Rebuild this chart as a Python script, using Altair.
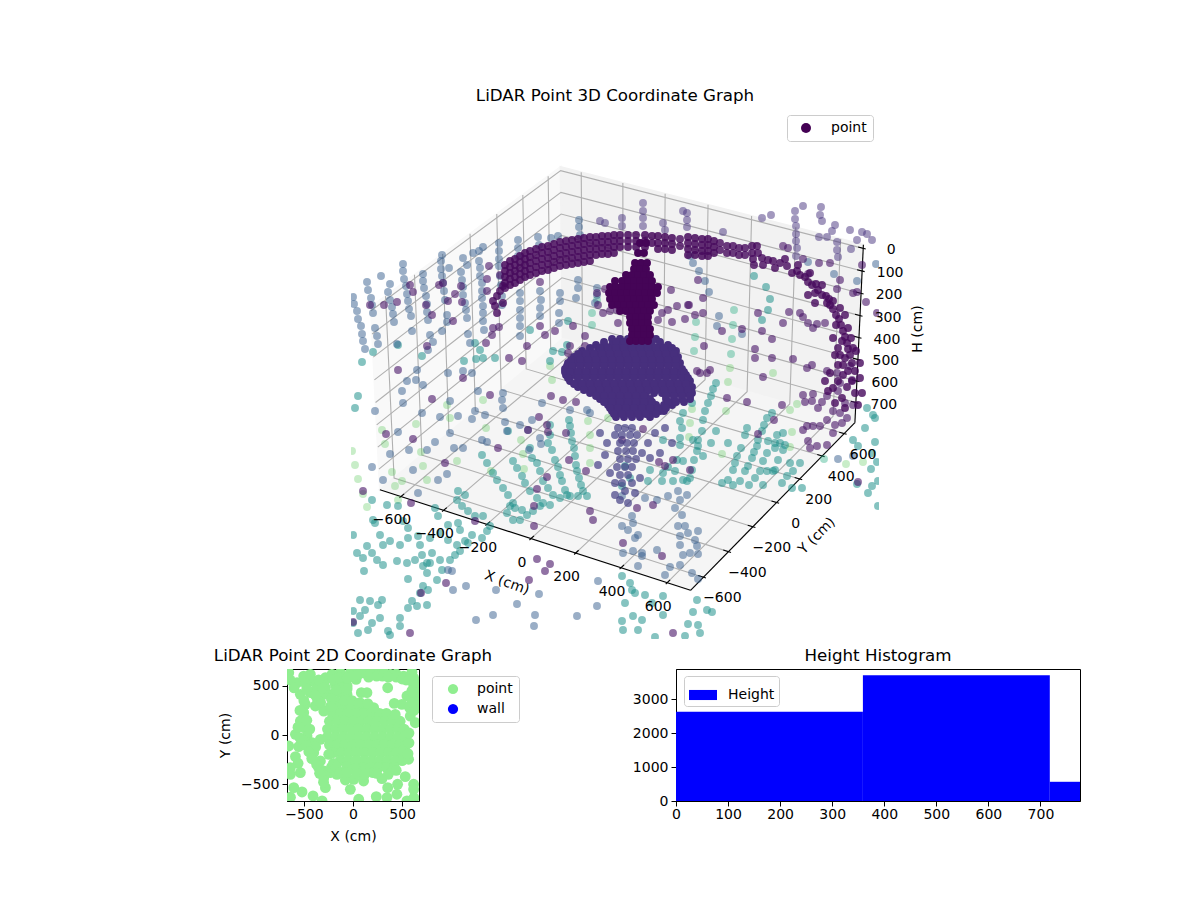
import altair as alt
import pandas as pd

FONT = "DejaVu Sans"

# tick labels of the 3d box
x_ticks = [-600, -400, -200, 0, 200, 400, 600]
y_ticks = [-600, -400, -200, 0, 200, 400, 600]
h_ticks = [0, 100, 200, 300, 400, 500, 600, 700]

# points of the 3d graph: (across, down)
lime_pts = [(382,427),(385,441),(416,421),(421,449),(447,402),(450,415),(486,425),(483,397),(552,377),(550,363),
    (521,437),(523,451),(524,466),(491,468),(457,458),(423,463),(427,477),(402,478),(392,469),(395,483),
    (352,448),(358,476),(355,462),(363,491),(367,504),(398,497),(588,418),(590,432),(590,445),(590,460),
    (608,415),(730,365),(728,379),(773,370),(797,401),(790,407),(792,429),(790,444),(722,451),(726,408),
    (692,406),(690,420),(689,434),(863,459),(846,461)]
mint_pts = [(734,307),(696,319),(733,322),(695,334),(732,336),(694,348),(731,351),(592,310),(592,322),(597,297),(824,456)]
teal_pts = [(569,417),(570,423),(571,430),(572,438),(574,445),(575,453),(576,462),(577,468),(579,475),(581,482),
    (583,488),(587,493),(550,432),(548,440),(552,447),(555,457),(558,464),(560,472),(562,478),(565,487),
    (570,493),(578,493),(550,422),(530,445),(532,455),(537,460),(540,468),(543,478),(548,485),(553,492),
    (560,495),(567,492),(508,428),(513,458),(517,465),(522,473),(525,480),(530,488),(537,495),(543,500),
    (550,502),(482,452),(487,460),(493,470),(497,477),(503,485),(508,492),(513,500),(522,507),(510,503),
    (515,505),(507,510),(513,517),(520,517),(527,512),(533,508),(540,503),(458,488),(465,492),(457,497),
    (462,503),(468,508),(475,513),(483,513),(490,523),(487,528),(482,535),(435,505),(438,513),(448,522),
    (458,520),(460,527),(472,532),(468,540),(465,538),(457,542),(448,537),(440,530),(430,535),(418,533),
    (420,542),(408,535),(408,525),(403,518),(380,532),(383,542),(390,538),(400,542),(372,497),(387,502),
    (398,503),(373,517),(375,520),(353,532),(372,550),(363,555),(357,550),(367,543),(377,557),(383,562),
    (397,558),(407,560),(422,552),(432,550),(427,560),(415,557),(423,563),(430,560),(440,557),(450,557),
    (455,552),(460,548),(364,568),(408,576),(427,570),(442,567),(437,577),(423,583),(428,587),(420,590),
    (412,598),(408,605),(417,603),(427,602),(382,597),(370,598),(378,602),(360,597),(353,608),(365,607),
    (360,613),(353,620),(380,615),(372,620),(368,627),(358,630),(388,628),(400,615),(400,623),(390,632),
    (358,393),(355,405),(398,342),(373,349),(362,359),
    (716,380),(713,386),(711,393),(708,400),(705,408),(703,417),(702,428),(698,437),(698,443),(697,448),
    (694,457),(692,467),(690,475),(683,477),(687,478),(680,442),(682,425),(680,435),(677,457),(675,468),
    (673,478),(662,478),(663,470),(668,464),(680,418),(683,410),(747,425),(745,432),(741,445),(737,453),
    (735,460),(733,467),(728,477),(722,480),(733,482),(757,443),(754,449),(752,455),(748,463),(745,468),
    (740,478),(749,482),(772,410),(767,415),(764,422),(762,428),(758,437),(768,438),(767,450),(763,458),
    (760,468),(755,475),(767,468),(773,468),(763,482),(777,432),(775,440),(775,445),(783,430),(780,440),
    (785,442),(783,447),(778,457),(775,467),(790,460),(800,460),(793,468),(787,473),(782,480),(792,485),
    (802,485),(716,428),(711,440),(728,440),(703,453),(693,437),(683,458),(625,463),(630,475),(650,467),
    (648,478),(622,483),(663,437),(692,400),(697,597),(693,609),(707,607),(712,609),(663,593),(652,600),
    (633,613),(642,617),(638,627),(625,600),(632,587),(635,590),(645,592),(630,580),(622,573),(663,612),
    (688,621),(698,622),(700,630),(685,633),(655,634),(622,618),(623,627),(865,425),(875,415),(867,405),
    (873,412),(853,437),(875,439),(858,443),(872,450),(877,459),(871,466),(878,478),(857,481),(872,483),
    (868,490),(878,503),(530,327),(568,318),(567,342),(562,349),(475,340),(480,347),(483,355),(553,348),
    (550,358),(422,353),(464,358),(476,356),(495,355),(754,273),(766,284),(770,296),(768,307),(762,317)]
steel_pts = [(353,294),(354,301),(357,308),(358,316),(361,323),(362,331),(363,338),(365,346),(367,279),(368,287),
    (371,295),(372,302),(373,310),(375,325),(377,333),(378,341),(381,273),(390,281),(388,289),(390,297),
    (392,304),(393,311),(394,319),(397,341),(403,261),(403,268),(404,276),(406,283),(407,291),(408,298),
    (409,306),(411,313),(412,328),(423,271),(423,278),(424,285),(426,293),(427,301),(427,309),(428,317),
    (430,332),(433,339),(428,347),(442,252),(441,258),(441,266),(442,273),(443,280),(444,288),(445,297),
    (447,312),(447,319),(442,328),(463,255),(467,262),(461,269),(462,277),(463,284),(463,292),(465,300),
    (466,307),(467,315),(468,331),(470,340),(449,265),(473,250),(479,248),(483,244),(479,258),(480,265),
    (480,273),(482,280),(482,288),(482,295),(483,303),(483,310),(483,318),(484,327),(499,240),(499,248),
    (499,256),(499,263),(500,273),(501,282),(502,293),(502,302),(518,237),(518,245),(518,253),(520,290),
    (520,298),(520,307),(520,315),(520,323),(520,333),(538,234),(539,242),(540,288),(541,297),(540,305),
    (540,313),(551,235),(558,233),(560,290),(560,298),(559,310),(559,320),(579,217),(579,224),(580,232),
    (578,277),(578,285),(576,295),(597,285),(597,292),(595,300),(690,253),(693,260),(699,268),(705,278),
    (709,289),(719,313),(717,323),(742,331),(808,259),(834,271),(857,278),(876,261),
    (390,451),(409,447),(427,447),(435,439),(454,445),(463,445),(482,437),(487,439),(507,428),(528,427),
    (540,435),(541,441),(529,447),(413,467),(447,471),(438,477),(383,477),(372,464),(418,490),(472,416),
    (458,413),(440,414),(450,430),(398,429),(475,408),(485,412),(505,419),(520,422),(532,417),(542,400),
    (570,407),(587,407),(590,410),(375,408),(403,400),(422,410),(450,398),(478,388),(503,390),(502,397),
    (503,405),(417,367),(448,370),(463,368),(472,370),(407,378),(423,382),(402,388),(416,377),
    (453,587),(466,583),(496,587),(539,591),(517,601),(493,612),(476,617),(535,612),(534,623),(577,613),
    (597,603),(598,578),(448,567),(452,568),(838,456),(853,453),
    (678,488),(687,492),(668,493),(680,497),(675,505),(682,512),(678,523),(685,523),(688,530),(698,528),
    (680,533),(695,537),(697,543),(680,542),(690,550),(698,551),(683,552),(680,562),(670,564),(665,572),
    (692,570),(698,576),(638,532),(635,535),(632,513),(633,520),(622,523),(628,527),(622,493),(645,495),
    (657,497),(633,548),(642,550),(657,547),(638,563),(623,550),(642,553)]
violet_pts = [(643,200),(643,208),(643,215),(643,223),(622,215),(622,223),(683,208),(687,210),(687,217),(687,224),
    (663,220),(665,227),(723,229),(762,215),(771,212),(795,208),(803,203),(795,216),(796,223),(796,231),
    (796,238),(797,245),(796,253),(821,204),(820,212),(822,218),(835,222),(832,228),(850,227),(857,237),
    (862,229),(867,231),(872,237),(819,234),(827,234),(837,239),(837,247),(838,254),(851,246),(600,218),(605,220)]
purple_pts = [(783,243),(788,245),(803,256),(819,260),(830,260),(808,271),(840,277),(862,262),(853,290),(857,289),
    (866,299),(877,310),(837,286),(698,277),(703,295),(671,287),(668,307),(677,303),(662,310),(658,317),
    (672,319),(685,316),(695,312),(703,310),(688,302),(689,302),(758,310),(789,309),(800,310),(803,314),
    (783,320),(808,320),(817,321),(772,336),(762,328),(755,346),(755,355),(772,355),(793,356),(742,326),
    (722,328),(704,343),(813,325),(825,320),
    (398,367),(463,375),(432,396),(490,392),(551,393),(563,397),(576,399),(539,414),(547,422),(548,429),
    (528,427),(566,430),(498,445),(445,460),(586,468),(547,474),(569,457),(537,486),(534,503),(534,523),
    (475,518),(411,500),(363,488),(413,436),(386,431),(590,508),(593,517),(537,556),(550,561),(545,568),
    (529,577),(421,590),(446,580),(353,619),(410,630),(673,630),(858,479),
    (763,374),(747,399),(758,431),(774,417),(782,402),(803,392),(813,391),(818,405),(805,399),(812,398),
    (822,399),(807,365),(812,362),(827,368),(803,427),(807,423),(813,423),(820,423),(827,417),(835,422),
    (842,420),(808,438),(810,445),(817,443),(827,442),(662,553),(637,505),(653,502),(623,540),(690,467),
    (659,459),(665,463),(673,457),(643,426),(622,437),(700,370),(707,370),(710,367),(697,368),(727,395),
    (837,370),(840,380),(850,363),(852,377),(838,388),(827,393),(833,408),(845,400),(853,402),(840,410),
    (847,415),(833,430),
    (489,263),(410,282),(439,282),(443,280),(461,283),(455,291),(462,299),(413,289),(397,299),(384,302),
    (370,302),(426,302),(432,312),(448,298),(453,318),(487,276),(487,288),(500,272),(427,343),(486,340),
    (492,332),(499,324),(493,325),(540,323),(545,332),(555,328),(573,323),(585,333),(595,347),(570,343),
    (568,350),(585,343),(605,343),(527,343),(509,355),(522,358),(597,290),(598,302),(603,310),(610,308),
    (617,307),(605,286),(623,287),(618,320),(540,279)]

# the ring of the ceiling: across -> stacked downs
arc_columns = {
    505: [262,268,274,280], 510: [258,264,270,276,282], 515: [256,262,268,274,280], 520: [253,259,265,271,277],
    525: [250,256,262,268,274], 530: [248,254,260,266,272], 536: [246,252,258,264,270], 542: [244,250,256,262,268],
    548: [243,249,255,261,267], 554: [241,247,253,259,265], 560: [239,245,251,257,263], 566: [238,244,250,256,262],
    572: [237,243,249,255,261], 578: [236,242,248,254,260], 584: [235,241,247,253,259], 590: [234,240,246,252,258],
    596: [234,240,246,252], 602: [233,239,245,251], 608: [233,239,245,251], 614: [232,238,244,250],
    620: [232,238,244], 628: [232,238,244], 636: [232,238,244], 645: [232,238,244], 652: [233,240],
    658: [233,240,246], 665: [234,240,246], 672: [235,241,247], 688: [234,240,246,252], 695: [235,241,247,252],
    702: [236,242,248,253], 708: [236,242,248,253], 714: [238,244,250],
}
arc_pts = [(495,303),(493,298),(497,293),(500,288),(503,283),(505,285),(497,310),(503,300),
    (720,240),(720,247),(727,243),(727,250),(733,243),(733,250),(739,245),(739,252),(745,245),(745,252),(752,243),
    (752,250),(753,256),(754,262),(757,243),(758,250),(762,255),(768,257),(773,258),(780,260),(787,263),(792,270),
    (797,268),(800,272),(805,274),(808,279),(812,282),(816,281),(818,287),(822,292),(826,293),(829,296),(830,302),
    (833,306),(836,312),(839,316),(841,322),(843,328),(845,334),(847,340),(842,338),(848,346),(838,345),(850,352),
    (845,355),(840,352),(853,345),(835,352),(852,360),(843,362),(838,362),(848,368),(855,368),(843,372),(838,378),
    (852,378),(847,384),(855,390),(842,395),
    (827,300),(833,298),(815,290),(840,305),(845,312),(836,322),(851,335),(848,325),(833,335),(856,348),(860,360),
    (830,370),(825,378),(833,385),(860,375),(862,390),(858,402),(845,405),(835,400),(828,388),(680,236),(680,243),
    (763,262),(775,265),(785,256),(798,262),(810,270),(822,282),(808,292),(815,300)]

# the cross above the dome: down -> across
spire_rows = {
    240: [640,646], 250: [638,644], 260: [635,641,647], 266: [634,640,646], 272: [626,632,638,644,650],
    278: [615,622,628,634,640,646,652], 284: [610,616,622,628,634,640,646,652,658],
    290: [609,615,621,627,633,639,645,651,657], 296: [610,616,622,628,634,640,646,652],
    302: [612,618,624,630,636,642,648,654], 308: [620,626,632,638,644,650], 314: [630,636,642,648],
    320: [630,636,642,648], 326: [632,638,644,650], 332: [632,638,644,650], 338: [630,636,642,648],
}
# the dome: down -> across
dome_rows = {
    336: [612,620,628,636,644,652,656], 342: [596,604,612,620,628,636,644,652,660,668],
    348: [582,590,598,606,614,622,630,638,646,654,662,670,676],
    354: [574,582,590,598,606,614,622,630,638,646,654,662,670,678],
    360: [568,576,584,592,600,608,616,624,632,640,648,656,664,672,680],
    366: [565,573,581,589,597,605,613,621,629,637,645,653,661,669,677,682],
    372: [566,574,582,590,598,606,614,622,630,638,646,654,662,670,678,686],
    378: [570,578,586,594,602,610,618,626,634,642,650,658,666,674,682,690],
    384: [578,586,594,602,610,618,626,634,642,650,658,666,674,682,692],
    390: [590,598,606,614,622,630,638,646,654,662,670,678,686,692],
    396: [600,608,616,624,632,640,650,666,674,682,690],
    402: [608,616,624,632,640,648,656,664,672],
    408: [612,620,628,636,644,652,660,664], 414: [616,624,632,640,650],
    339: [604,616,624,632,640,648,660], 345: [590,600,608,616,624,632,640,648,656,664,672],
    351: [578,586,594,602,610,618,626,634,642,650,658,666,674],
    357: [571,580,588,596,604,612,620,628,636,644,652,660,668,676],
    363: [567,572,580,588,596,604,612,620,628,636,644,652,660,668,676],
    369: [565,570,578,586,594,602,610,618,626,634,642,650,658,666,674,684],
    375: [568,578,586,594,602,610,618,626,634,642,650,658,666,674,682,688],
    381: [574,582,590,598,606,614,622,630,638,646,654,662,670,678,686],
    387: [584,592,600,608,616,624,632,640,648,656,664,672,680,688],
    393: [596,604,612,620,628,636,644,666,674,682,690],
    399: [604,612,620,628,636,644,652,668,676,684],
    405: [610,618,626,634,642,650,658,666],
    411: [614,622,630,638,646,656],
}
stem_pts = [(618,425),(625,425),(632,425),(615,432),(622,432),(630,432),(637,432),(620,440),(627,440),(634,440),
    (618,448),(626,448),(633,448),(620,456),(628,456),(636,456),(617,464),(625,464),(632,464),(620,472),
    (628,472),(615,480),(622,480),(632,480),(625,488),(615,492),(635,490),(620,497),(628,500),(640,475),
    (648,440),(655,430),(665,425),(642,450),(650,455),(660,450),(672,440),(600,430),(607,440),(605,452),
    (598,462),(610,470)]

# 2d graph, (X cm, Y cm)
floor_pts = [(-180,300),(-100,300),(-20,300),(60,300),(140,300),(-210,220),(-130,220),(-50,220),(30,220),(110,220),
    (190,220),(270,220),(340,220),(-240,140),(-160,140),(-80,140),(0,140),(80,140),(160,140),(240,140),(320,140),
    (400,140),(480,140),(-260,60),(-180,60),(-100,60),(-20,60),(60,60),(140,60),(220,60),(300,60),(380,60),(460,60),
    (520,60),(-260,-20),(-180,-20),(-100,-20),(-20,-20),(60,-20),(140,-20),(220,-20),(300,-20),(380,-20),(460,-20),
    (520,-20),(-240,-100),(-160,-100),(-80,-100),(0,-100),(80,-100),(160,-100),(240,-100),(320,-100),(400,-100),
    (480,-100),(540,-100),(-200,-180),(-120,-180),(-40,-180),(40,-180),(120,-180),(200,-180),(280,-180),(360,-180),
    (440,-180),(520,-180),(-130,-260),(-50,-260),(30,-260),(110,-260),(190,-260),(270,-260),(350,-260),(430,-260),
    (500,-260),(100,-330),(180,-330),(260,-330),(340,-330),(420,-330),
    (-654,634),(-570,532),(-502,600),(-434,617),(-417,549),(-536,414),(-434,431),(-366,481),(-281,583),(-214,617),
    (-298,532),(-129,634),(-27,634),(108,634),(244,634),(380,617),(515,600),(617,583),(651,498),(-95,532),(-180,515),
    (-214,414),(-129,431),(-61,414),(31,566),(159,590),(85,431),(142,431),(353,481),(549,397),(634,397),(651,278),
    (634,125),(420,322),(498,312),(576,278),(583,193),(430,210),(210,278),(-383,295),(-485,312),(-502,227),(-536,142),
    (-502,75),(-586,7),(-468,-10),(-417,-78),(-332,-44),(-553,-119),(-400,-180),(-332,-264),(-247,-197),(-298,-366),
    (-298,-434),(-281,-536),(-163,-400),(-230,-383),(-298,244),(-298,414),(-654,-112),(-586,-220),(-559,-288),
    (-536,-383),(-637,-332),(-637,-400),(-603,-536),(-519,-580),(-637,-634),(-407,-620),(-315,-671),(-78,-458),
    (7,-451),(108,-468),(-27,-553),(58,-654),(203,-383),(295,-444),(237,-627),(353,-536),(454,-502),(346,-637),
    (447,-603),(532,-424),(617,-502),(617,-553),(549,-671),(566,-247),(515,-146),(620,-640),(600,640),(640,540),
    (-640,560),(-600,480),(-480,520),(-350,560),(-60,500),(20,640),(200,640),(320,630),(440,620),(540,560),
    (-470,150),(-440,60),(-380,-120),(-350,-330),
    (-200,560),(-140,580),(-60,580),(0,600),(60,620),(120,640),(180,620),(240,600),(300,600),(360,590),(440,590),
    (500,570),(570,560),(620,500),(650,430),(600,450),(640,340),(620,250),(600,330),(-120,480),(-170,460),(-60,470),
    (-470,470),(-500,350),(-540,250),(-560,80),(-540,-30),(-500,-60),(-470,-110),(-450,-170),(-420,-240),(-370,-300),
    (-340,-390),(-300,-480),(-220,-330),(-200,-290),(-170,-330),(-130,-380),(-360,350),(-330,330),(-280,480),
    (-380,400),(-310,480),(-170,340),(-90,350),(-10,350),(70,330),(150,320),(-60,-320),(20,-340),(-220,370),
    (-230,290),(-60,-380),(40,-390),(120,-400),(240,-390),(360,-400),(440,-360),(560,-190),(570,-80),(570,20)]

# histogram
hist_start = [0, 359, 718]
hist_end = [359, 718, 776]
hist_count = [2628, 3704, 566]

# 3d box model
BX, BY, BZ = 1.1905, 1.1905, 0.70
XLIM, YLIM, HLIM = 672, 672, 778
SCALE, CX, CY = 2854, 622, 364
U = (0.866, 0.5, 0.0)
V = (-0.25, 0.433, 0.866)
W = (0.433, -0.75, 0.5)


def project(x, y, h):
    rel = ((x + XLIM) / (2 * XLIM) * BX - BX / 2,
           (y + YLIM) / (2 * YLIM) * BY - BY / 2,
           (HLIM - h) / HLIM * BZ - BZ / 2)
    dist = 10 - sum(a * b for a, b in zip(W, rel))
    return (CX + SCALE * sum(a * b for a, b in zip(U, rel)) / dist,
            CY - SCALE * sum(a * b for a, b in zip(V, rel)) / dist)


XP = XLIM + 2 * XLIM / 48
YP = YLIM + 2 * YLIM / 48
HBOT = HLIM + HLIM / 48
HTOP = -HLIM / 48


def path_rows(name, corners):
    rows = []
    for k, c in enumerate(corners):
        u, v = project(*c)
        rows.append({"id": name, "k": k, "u": u, "v": v})
    return rows


def minus(n):
    return str(n).replace("-", "\u2212")


x_scale = alt.Scale(domain=[351, 879])
y_scale = alt.Scale(domain=[636, 108])
X_ENC = alt.X("u:Q", scale=x_scale, axis=None)
Y_ENC = alt.Y("v:Q", scale=y_scale, axis=None)


def pane(name, corners, fill):
    return alt.Chart(pd.DataFrame(path_rows(name, corners))).mark_line(
        fill=fill, stroke=fill, interpolate="linear-closed"
    ).encode(X_ENC, Y_ENC, order="k:Q")


panes = [
    pane("left", [(-XP, -YP, HBOT), (-XP, YP, HBOT), (-XP, YP, HTOP), (-XP, -YP, HTOP)], "#f9f9f9"),
    pane("back", [(-XP, YP, HBOT), (XP, YP, HBOT), (XP, YP, HTOP), (-XP, YP, HTOP)], "#f2f2f2"),
    pane("floor", [(-XP, -YP, HBOT), (XP, -YP, HBOT), (XP, YP, HBOT), (-XP, YP, HBOT)], "#f5f5f5"),
]

grid_rows = []
for t in x_ticks:
    grid_rows += path_rows(f"gx{t}", [(t, -YP, HBOT), (t, YP, HBOT), (t, YP, HTOP)])
for t in y_ticks:
    grid_rows += path_rows(f"gy{t}", [(XP, t, HBOT), (-XP, t, HBOT), (-XP, t, HTOP)])
for t in h_ticks:
    grid_rows += path_rows(f"gh{t}", [(-XP, -YP, t), (-XP, YP, t), (XP, YP, t)])
grid = alt.Chart(pd.DataFrame(grid_rows)).mark_line(color="#b0b0b0", strokeWidth=1.1).encode(
    X_ENC, Y_ENC, detail="id:N", order="k:Q"
)

axis_rows = []
axis_rows += path_rows("ax", [(-XP, -YP, HBOT), (XP, -YP, HBOT)])
axis_rows += path_rows("ay", [(XP, -YP, HBOT), (XP, YP, HBOT)])
axis_rows += path_rows("ah", [(XP, YP, HBOT), (XP, YP, HTOP)])
DX = 2 * XLIM / 12
for t in x_ticks:
    axis_rows += path_rows(f"tx{t}", [(t, -YP - 0.1 * DX, HBOT), (t, -YP + 0.2 * DX, HBOT)])
for t in y_ticks:
    axis_rows += path_rows(f"ty{t}", [(XP + 0.1 * DX, t, HBOT), (XP - 0.2 * DX, t, HBOT)])
for t in h_ticks:
    axis_rows += path_rows(f"th{t}", [(XP + 0.1 * DX, YP, t), (XP - 0.2 * DX, YP, t)])
axis_lines = alt.Chart(pd.DataFrame(axis_rows)).mark_line(color="black", strokeWidth=1.1).encode(
    X_ENC, Y_ENC, detail="id:N", order="k:Q"
)

label_rows = []
for t in x_ticks:
    u, v = project(t, -YP, HBOT)
    label_rows.append({"u": u - 9, "v": v + 24, "label": minus(t)})
for t in y_ticks:
    u, v = project(XP, t, HBOT)
    label_rows.append({"u": u + 19, "v": v + 21, "label": minus(t)})
for t in h_ticks:
    u, v = project(XP, YP, t)
    label_rows.append({"u": u + 28, "v": v + 2, "label": minus(t)})
tick_labels = alt.Chart(pd.DataFrame(label_rows)).mark_text(
    font=FONT, fontSize=14, color="black", baseline="middle", align="center"
).encode(X_ENC, Y_ENC, text="label:N")


def axis_title(text, u, v, angle):
    return alt.Chart(pd.DataFrame({"u": [u], "v": [v], "label": [text]})).mark_text(
        font=FONT, fontSize=14, color="black", baseline="middle", align="center", angle=angle
    ).encode(X_ENC, Y_ENC, text="label:N")


def group_rows(pts, h, alpha):
    return [{"u": a, "v": b, "h": h, "alpha": alpha} for a, b in pts]


def col_pts(cols):
    return [(a, b) for a, bs in cols.items() for b in bs]


def row_pts(rows):
    return [(a, b) for b, aa in rows.items() for a in aa]


point_rows = (
    group_rows(lime_pts, 590, 0.35)
    + group_rows(mint_pts, 480, 0.4)
    + group_rows(teal_pts, 390, 0.55)
    + group_rows(steel_pts, 230, 0.5)
    + group_rows(violet_pts, 110, 0.5)
    + group_rows(purple_pts, 40, 0.6)
    + group_rows(col_pts(arc_columns), 15, 0.85)
    + group_rows(arc_pts, 15, 0.8)
    + group_rows(stem_pts, 140, 0.7)
    + group_rows(row_pts(dome_rows), 105, 1)
    + group_rows(row_pts(spire_rows), 5, 1)
)

points = alt.Chart(pd.DataFrame(point_rows)).mark_circle(size=62, clip=True).encode(
    X_ENC, Y_ENC,
    color=alt.Color("h:Q", scale=alt.Scale(scheme="viridis", domain=[0, 780]), legend=None),
    opacity=alt.Opacity("alpha:Q", scale=None),
)

legend_3d = alt.Chart(pd.DataFrame({"u": [0], "v": [0], "series": ["point"]})).mark_circle(size=40, clip=True).encode(
    X_ENC, Y_ENC,
    color=alt.Color(
        "series:N",
        scale=alt.Scale(domain=["point"], range=["#440154"]),
        legend=alt.Legend(
            title=None, orient="none", legendX=436, legendY=4, labelFontSize=14, labelFont=FONT, labelColor="black",
            strokeColor="#cccccc", fillColor="white", cornerRadius=3, padding=6, symbolOpacity=1, labelOffset=18,
            symbolOffset=6,
        ),
    ),
)

chart_3d = alt.layer(
    *panes, grid, axis_lines, points, tick_labels,
    axis_title("X (cm)", 507, 580, 20),
    axis_title("Y (cm)", 817, 533, 315),
    axis_title("H (cm)", 918, 326, 270),
    legend_3d,
).resolve_scale(color="independent").properties(
    width=528, height=528,
    title=alt.TitleParams("LiDAR Point 3D Coordinate Graph", anchor="middle", offset=6),
)

spacer = alt.Chart(pd.DataFrame({"a": [0]})).mark_point(opacity=0).encode(x=alt.value(0), y=alt.value(0)).properties(
    width=64, height=10
)

floor_df = pd.DataFrame({"X": [p[0] for p in floor_pts], "Y": [p[1] for p in floor_pts],
                         "series": ["point"] * len(floor_pts)})
chart_2d = alt.Chart(floor_df).mark_circle(size=118, opacity=1, clip=True).encode(
    alt.X("X:Q", title="X (cm)", scale=alt.Scale(domain=[-672, 672]),
          axis=alt.Axis(values=[-500, 0, 500], labelPadding=1, titlePadding=8,
                        labelExpr="replace(datum.label, '-', '\u2212')")),
    alt.Y("Y:Q", title="Y (cm)", scale=alt.Scale(domain=[-672, 672]),
          axis=alt.Axis(values=[-500, 0, 500], labelPadding=3, titlePadding=8,
                        labelExpr="replace(datum.label, '-', '\u2212')")),
    color=alt.Color(
        "series:N",
        scale=alt.Scale(domain=["point", "wall"], range=["#90ee90", "#0000ff"]),
        legend=alt.Legend(
            title=None, orient="none", legendX=145, legendY=7, labelFontSize=14, labelFont=FONT, labelColor="black",
            strokeColor="#cccccc", fillColor="white", cornerRadius=3, padding=6, symbolSize=105, symbolOpacity=1,
            labelOffset=17, rowPadding=6, symbolOffset=8,
        ),
    ),
).properties(
    width=132, height=132, view=alt.ViewConfig(stroke="black"),
    title=alt.TitleParams("LiDAR Point 2D Coordinate Graph", anchor="middle", offset=4),
)

hist_df = pd.DataFrame({"start": hist_start, "end": hist_end, "count": hist_count,
                        "series": ["Height"] * len(hist_start)})
chart_hist = alt.Chart(hist_df).mark_rect().encode(
    alt.X("start:Q", title=None, scale=alt.Scale(domain=[0, 776], nice=False),
          axis=alt.Axis(values=[0, 100, 200, 300, 400, 500, 600, 700], labelPadding=1)),
    alt.X2("end:Q"),
    alt.Y("count:Q", title=None, scale=alt.Scale(domain=[0, 3889], nice=False),
          axis=alt.Axis(values=[0, 1000, 2000, 3000], format="d")),
    alt.Y2(datum=0),
    color=alt.Color(
        "series:N",
        scale=alt.Scale(domain=["Height"], range=["#0000ff"]),
        legend=alt.Legend(
            title=None, orient="none", legendX=8, legendY=7, labelFontSize=14, labelFont=FONT, labelColor="black",
            strokeColor="#cccccc", fillColor="white", cornerRadius=3, padding=4, symbolType="M-1,-0.36H1V0.36H-1Z",
            symbolSize=784, labelOffset=10,
        ),
    ),
).properties(
    width=404, height=132, view=alt.ViewConfig(stroke="black"),
    title=alt.TitleParams("Height Histogram", anchor="middle", offset=4),
)

top_row = alt.hconcat(spacer, chart_3d, spacing=0).resolve_scale(color="independent")
bottom_row = alt.hconcat(chart_2d, chart_hist, spacing=111).resolve_scale(color="independent")

chart = alt.vconcat(top_row, bottom_row, spacing=8).resolve_scale(color="independent").properties(
    padding={"left": 205, "top": 80, "right": 0, "bottom": 0}, background="white"
).configure_view(stroke=None).configure_axis(
    grid=False, labelFont=FONT, titleFont=FONT, labelFontSize=14, titleFontSize=14, labelColor="black",
    titleColor="black", titleFontWeight="normal", tickColor="black", domainColor="black", tickSize=5,
    labelPadding=3, titlePadding=4, labelOverlap=False, labelFlush=False,
).configure_title(font=FONT, fontSize=16.7, fontWeight="normal", color="black")

chart.save("out.html", embed_options={"renderer": "svg", "actions": False})
